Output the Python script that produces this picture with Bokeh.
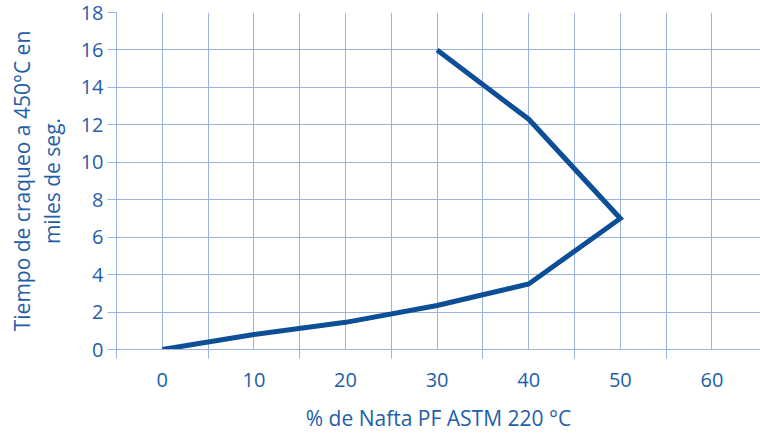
from bokeh.plotting import figure
from bokeh.models import FixedTicker, Range1d
from bokeh.embed import file_html
from bokeh.resources import INLINE

# Data
nafta_pct = [0, 10, 20, 30, 40, 50, 40, 30]
tiempo_miles_seg = [0, 0.8, 1.45, 2.35, 3.5, 7.0, 12.3, 16.0]

x_labels_ticks = [0, 10, 20, 30, 40, 50, 60]
x_minor_ticks = [-5, 5, 15, 25, 35, 45, 55]
y_ticks = [0, 2, 4, 6, 8, 10, 12, 14, 16, 18]

x_title = "% de Nafta PF ASTM 220 °C"
y_title = "Tiempo de craqueo a 450°C en\nmiles de seg."

TEXT = "#1f5ea8"
GRID = "#9db3dc"
LINE = "#0d4f96"
FONT = "Open Sans"

p = figure(width=760, height=434, output_backend="svg", toolbar_location=None,
           x_range=Range1d(-5, 65.3), y_range=Range1d(0, 18),
           min_border_left=116, min_border_right=0, min_border_top=12,
           min_border_bottom=85)
p.outline_line_color = None
p.background_fill_color = "white"

p.line(nafta_pct, tiempo_miles_seg, line_color=LINE, line_width=5,
       line_join="miter")

p.xaxis.ticker = FixedTicker(ticks=x_labels_ticks, minor_ticks=x_minor_ticks)
p.yaxis.ticker = FixedTicker(ticks=y_ticks, minor_ticks=[])

for ax in (p.xaxis, p.yaxis):
    ax.axis_line_color = GRID
    ax.major_label_text_color = TEXT
    ax.major_label_text_font = FONT
    ax.major_label_text_font_size = "20px"
    ax.axis_label_text_color = TEXT
    ax.axis_label_text_font = FONT
    ax.axis_label_text_font_size = "21px"
    ax.axis_label_text_font_style = "normal"
    ax.major_tick_line_color = GRID
    ax.minor_tick_line_color = GRID
    ax.minor_tick_in = 0
    ax.major_tick_in = 0

p.xaxis.major_tick_out = 0
p.xaxis.minor_tick_out = 9
p.xaxis.major_label_standoff = 14
p.xaxis.axis_label = x_title
p.xaxis.axis_label_standoff = 14

p.yaxis.major_tick_out = 9
p.yaxis.minor_tick_out = 0
p.yaxis.major_label_standoff = 4
p.yaxis.axis_label = y_title
p.yaxis.axis_label_standoff = 12
p.yaxis.axis_label_text_line_height = 1.07

p.xgrid.grid_line_color = GRID
p.xgrid.minor_grid_line_color = GRID
p.ygrid.grid_line_color = GRID
p.xgrid.grid_line_width = 1
p.ygrid.grid_line_width = 1

open("out.html", "w").write(file_html(p, INLINE))
